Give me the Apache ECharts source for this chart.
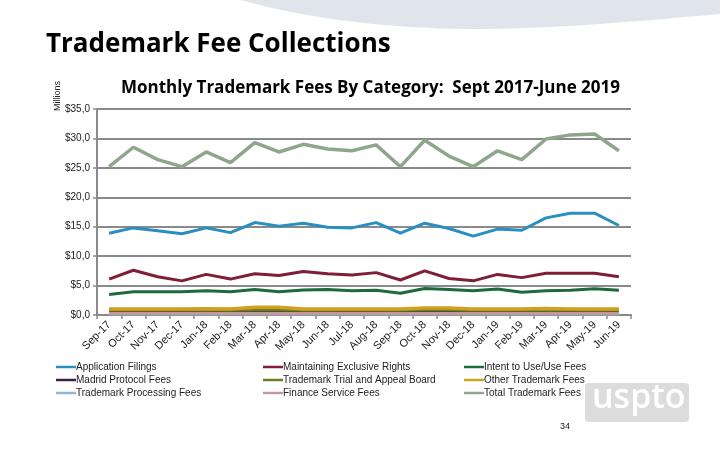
<!DOCTYPE html>
<html>
<head>
<meta charset="utf-8">
<script src="https://cdn.jsdelivr.net/npm/echarts@6/dist/echarts.min.js"></script>
<style>
html,body{margin:0;padding:0;background:#fff;}
#chart{width:720px;height:450px;}
</style>
</head>
<body>
<div id="chart"></div>
<script>
const categories = ['Sep-17','Oct-17','Nov-17','Dec-17','Jan-18','Feb-18','Mar-18','Apr-18','May-18','Jun-18','Jul-18','Aug-18','Sep-18','Oct-18','Nov-18','Dec-18','Jan-19','Feb-19','Mar-19','Apr-19','May-19','Jun-19'];
const applicationFilings = [13.9,14.8,14.3,13.8,14.8,14.0,15.7,15.1,15.6,14.9,14.8,15.7,13.9,15.6,14.7,13.4,14.6,14.4,16.5,17.3,17.3,15.2];
const maintainingRights = [6.1,7.6,6.5,5.8,6.9,6.1,7.0,6.7,7.4,7.0,6.8,7.2,5.95,7.5,6.2,5.8,6.9,6.35,7.1,7.1,7.1,6.5];
const intentToUse = [3.5,3.95,3.95,3.95,4.1,3.95,4.35,3.95,4.25,4.35,4.1,4.2,3.7,4.5,4.35,4.1,4.4,3.85,4.1,4.2,4.45,4.2];
const madridFees = [0.6,0.6,0.6,0.6,0.6,0.6,0.65,0.65,0.6,0.6,0.6,0.6,0.6,0.65,0.65,0.6,0.6,0.6,0.6,0.6,0.6,0.6];
const ttabFees = [0.8,0.8,0.8,0.8,0.8,0.8,0.85,0.85,0.8,0.8,0.8,0.8,0.8,0.85,0.85,0.8,0.8,0.8,0.8,0.8,0.8,0.8];
const otherFees = [1.0,1.0,1.0,1.0,1.05,1.0,1.3,1.3,1.0,1.0,1.0,1.0,1.0,1.2,1.2,1.0,1.0,1.0,1.1,1.0,1.0,1.0];
const processingFees = [0.2,0.2,0.2,0.2,0.2,0.2,0.2,0.2,0.2,0.2,0.2,0.2,0.2,0.2,0.2,0.2,0.2,0.2,0.2,0.2,0.2,0.2];
const financeFees = [0.25,0.25,0.25,0.25,0.25,0.25,0.25,0.25,0.25,0.25,0.25,0.25,0.25,0.25,0.25,0.25,0.25,0.25,0.25,0.25,0.25,0.25];
const totalFees = [25.2,28.5,26.4,25.2,27.7,25.9,29.3,27.7,29.0,28.2,27.9,28.9,25.2,29.7,27.0,25.2,27.9,26.4,29.9,30.6,30.75,27.9];
const yTicks = [0,5,10,15,20,25,30,35];

const seriesDefs = [
  ['Application Filings', applicationFilings, '#2a8fc0', 3],
  ['Maintaining Exclusive Rights', maintainingRights, '#7e1e37', 3],
  ['Intent to Use/Use Fees', intentToUse, '#1f6a3a', 3],
  ['Madrid Protocol Fees', madridFees, '#3f1d45', 3],
  ['Trademark Trial and Appeal Board', ttabFees, '#6e7d22', 3],
  ['Other Trademark Fees', otherFees, '#d0a021', 3.5],
  ['Trademark Processing Fees', processingFees, '#93b6d6', 3],
  ['Finance Service Fees', financeFees, '#bf999d', 3],
  ['Total Trademark Fees', totalFees, '#8ea68c', 3.5]
];

const FONT = '"Liberation Sans", Arial, sans-serif';
const chart = echarts.init(document.getElementById('chart'), null, {renderer:'canvas'});

function legendCol(names, left) {
  return {
    orient: 'vertical', left: left, top: 357, itemGap: 3,
    icon: 'rect', itemWidth: 20, itemHeight: 2.5,
    data: names,
    selectedMode: false,
    textStyle: {fontFamily: FONT, fontSize: 10, color: '#222', padding: [0,0,0,-5]}
  };
}

// decorative band at top of slide (bezier sampled into a polygon)
function bandPoints() {
  const pts = [];
  const P = [[240,0],[300,16],[370,28],[470,29]];
  const Q = [[470,29],[560,29],[650,20],[720,14]];
  function bez(c, t) {
    const u = 1 - t;
    return [u*u*u*c[0][0] + 3*u*u*t*c[1][0] + 3*u*t*t*c[2][0] + t*t*t*c[3][0],
            u*u*u*c[0][1] + 3*u*u*t*c[1][1] + 3*u*t*t*c[2][1] + t*t*t*c[3][1]];
  }
  for (let i = 0; i <= 20; i++) pts.push(bez(P, i/20));
  for (let i = 1; i <= 20; i++) pts.push(bez(Q, i/20));
  pts.push([720,0]);
  return pts;
}

const option = {
  backgroundColor: '#fff',
  animation: false,
  title: [
    {text: 'Trademark Fee Collections', left: 41, top: 27,
     textStyle: {fontFamily: '"Open Sans", sans-serif', fontWeight: 'bold', fontSize: 26, color: '#000'}},
    {text: 'Monthly Trademark Fees By Category:  Sept 2017-June 2019', left: 116, top: 75,
     textStyle: {fontFamily: '"Open Sans", sans-serif', fontWeight: 'bold', fontSize: 17, color: '#000'}}
  ],
  legend: [
    legendCol(['Application Filings','Madrid Protocol Fees','Trademark Processing Fees'], 51),
    legendCol(['Maintaining Exclusive Rights','Trademark Trial and Appeal Board','Finance Service Fees'], 258),
    legendCol(['Intent to Use/Use Fees','Other Trademark Fees','Total Trademark Fees'], 459)
  ],
  grid: {left: 97, right: 89, top: 109, bottom: 135, containLabel: false},
  xAxis: {
    type: 'category', data: categories, boundaryGap: true,
    axisLine: {lineStyle: {color: '#8a8a8a', width: 2}},
    axisTick: {show: true, length: 4, lineStyle: {color: '#8a8a8a', width: 1.5}},
    axisLabel: {rotate: 45, interval: 0, margin: 8, fontFamily: FONT, fontSize: 11, color: '#222'}
  },
  yAxis: {
    type: 'value', min: yTicks[0], max: yTicks[yTicks.length-1], interval: 5,
    axisLine: {show: true, lineStyle: {color: '#8a8a8a', width: 2}},
    axisTick: {show: true, length: 4, lineStyle: {color: '#8a8a8a', width: 1.5}},
    splitLine: {lineStyle: {color: '#8a8a8a', width: 2}},
    axisLabel: {fontFamily: FONT, fontSize: 10, color: '#222', margin: 7,
      formatter: v => '$' + v.toFixed(1).replace('.', ',')}
  },
  series: seriesDefs.map(d => ({
    name: d[0], type: 'line', data: d[1], symbol: 'none', smooth: false,
    lineStyle: {color: d[2], width: d[3]}, itemStyle: {color: d[2]}
  })),
  graphic: [
    {type: 'polygon', z: -1, shape: {points: bandPoints()}, style: {fill: '#dfe5ea'}},
    {type: 'text', x: 58, y: 96, rotation: Math.PI / 2,
     style: {text: 'Millions', fontFamily: FONT, fontSize: 9, fill: '#222', align: 'center', verticalAlign: 'middle'}},
    {type: 'rect', left: 585, top: 383, shape: {width: 104, height: 39, r: 4}, style: {fill: '#dcdcdc'}},
    {type: 'text', left: 592, top: 381, style: {text: 'uspto', fontFamily: '"Open Sans", sans-serif', fontWeight: 600, fontSize: 34, fill: '#fff'}},
    {type: 'text', left: 560, top: 422, style: {text: '34', fontFamily: FONT, fontSize: 9, fill: '#222'}}
  ]
};
chart.setOption(option);
</script>
</body>
</html>
